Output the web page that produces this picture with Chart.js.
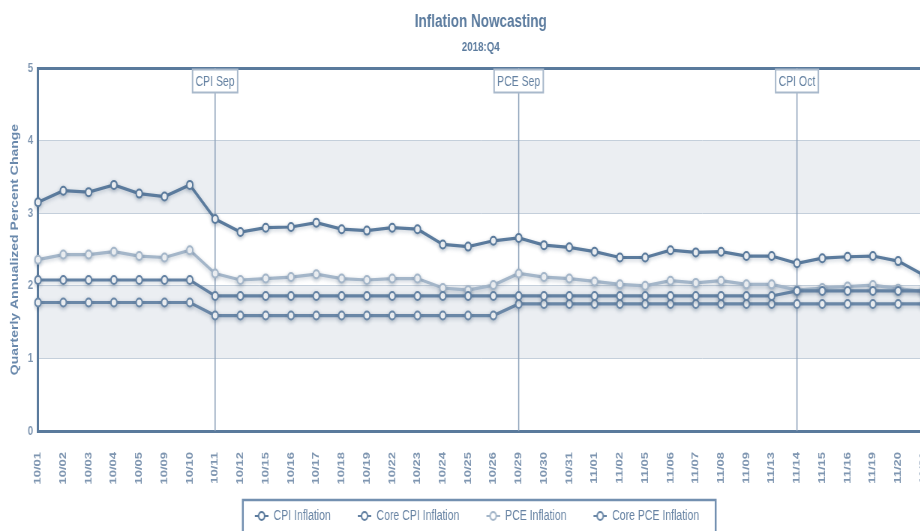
<!DOCTYPE html>
<html>
<head>
<meta charset="utf-8">
<title>Inflation Nowcasting</title>
<script src="https://cdn.jsdelivr.net/npm/chart.js@4.4.1/dist/chart.umd.min.js"></script>
<style>
  html, body { margin: 0; padding: 0; background: #fff; }
  #wrap { width: 920px; height: 531px; overflow: hidden; position: relative; }
  /* the source picture is squeezed sideways, so the canvas is squeezed the same way */
  #chart { transform: scaleX(0.75); transform-origin: 0 0; }
</style>
</head>
<body>
<div id="wrap"><canvas id="chart" width="1290" height="533"></canvas></div>
<script>
// ============ DATA ============
const dates = [
  "10/01", "10/02", "10/03", "10/04", "10/05", "10/09", "10/10", "10/11", "10/12",
  "10/15", "10/16", "10/17", "10/18", "10/19", "10/22", "10/23", "10/24", "10/25",
  "10/26", "10/29", "10/30", "10/31", "11/01", "11/02", "11/05", "11/06", "11/07",
  "11/08", "11/09", "11/13", "11/14", "11/15", "11/16", "11/19", "11/20", "11/21"
];

const cpi = [
  3.15, 3.31, 3.29, 3.39, 3.27, 3.23, 3.39, 2.92, 2.74,
  2.80, 2.81, 2.87, 2.78, 2.76, 2.80, 2.78, 2.57, 2.54,
  2.62, 2.66, 2.56, 2.53, 2.47, 2.39, 2.39, 2.49, 2.46,
  2.47, 2.41, 2.41, 2.31, 2.38, 2.40, 2.41, 2.34, 2.15
];

const coreCpi = [
  2.08, 2.08, 2.08, 2.08, 2.08, 2.08, 2.08, 1.86, 1.86,
  1.86, 1.86, 1.86, 1.86, 1.86, 1.86, 1.86, 1.86, 1.86,
  1.86, 1.86, 1.86, 1.86, 1.86, 1.86, 1.86, 1.86, 1.86,
  1.86, 1.86, 1.86, 1.93, 1.93, 1.93, 1.93, 1.93, 1.93
];

const pce = [
  2.36, 2.43, 2.43, 2.47, 2.41, 2.39, 2.49, 2.17, 2.08,
  2.10, 2.12, 2.16, 2.10, 2.08, 2.10, 2.10, 1.97, 1.94,
  2.01, 2.17, 2.12, 2.10, 2.06, 2.02, 2.00, 2.07, 2.04,
  2.07, 2.02, 2.02, 1.94, 1.97, 1.99, 2.01, 1.96, 1.92
];

const corePce = [
  1.77, 1.77, 1.77, 1.77, 1.77, 1.77, 1.77, 1.59, 1.59,
  1.59, 1.59, 1.59, 1.59, 1.59, 1.59, 1.59, 1.59, 1.59,
  1.59, 1.75, 1.75, 1.75, 1.75, 1.75, 1.75, 1.75, 1.75,
  1.75, 1.75, 1.75, 1.75, 1.75, 1.75, 1.75, 1.75, 1.75
];

const yTicks = [0, 1, 2, 3, 4, 5];
const shadedBands = [[1, 2], [3, 4]];
const releaseDates = ["10/11", "10/29", "11/14"];
const releaseNames = ["CPI Sep", "PCE Sep", "CPI Oct"];

// ============ STYLE ============
const FONT = "'Liberation Sans', Arial, sans-serif";
const AXIS = "#5a7a9c";
const TITLE = "#5b7b9e";
const TICK = "#7f96b1";

// line+marker picture for the legend; the blank left half spaces the items out
function legendIcon(color) {
  const c = document.createElement("canvas");
  c.width = 36;
  c.height = 12;
  const g = c.getContext("2d");
  g.strokeStyle = color;
  g.lineWidth = 2;
  g.beginPath();
  g.moveTo(18, 6);
  g.lineTo(36, 6);
  g.stroke();
  g.fillStyle = "#fff";
  g.beginPath();
  g.arc(27, 6, 4, 0, Math.PI * 2);
  g.fill();
  g.stroke();
  return c;
}

function series(label, data, color) {
  return {
    label,
    data,
    borderColor: color,
    backgroundColor: "#fff",
    borderWidth: 3.2,
    pointRadius: 4,
    pointBorderWidth: 2,
    pointBackgroundColor: "#fff",
    pointBorderColor: color,
    pointHoverRadius: 4,
    tension: 0,
  };
}

// ============ PLUGINS ============
const bands = {
  id: "bands",
  beforeDraw(chart) {
    const { ctx, chartArea: a, scales: { y } } = chart;
    ctx.save();
    ctx.fillStyle = "#ebeef2";
    shadedBands.forEach(([lo, hi]) => {
      const top = y.getPixelForValue(hi);
      const bot = y.getPixelForValue(lo);
      ctx.fillRect(a.left, top, a.right - a.left, bot - top);
    });
    ctx.restore();
  }
};

const releases = {
  id: "releases",
  beforeDatasetsDraw(chart) {
    const { ctx, chartArea: a, scales: { x } } = chart;
    ctx.save();
    releaseDates.forEach((d, i) => {
      const px = x.getPixelForValue(dates.indexOf(d));
      ctx.strokeStyle = "#8ea2ba";
      ctx.lineWidth = 1.5;
      ctx.beginPath();
      ctx.moveTo(px, a.top);
      ctx.lineTo(px, a.bottom);
      ctx.stroke();

      ctx.font = "14px " + FONT;
      const w = ctx.measureText(releaseNames[i]).width + 8;
      const bx = px - w / 2, by = a.top + 1.5, bh = 23;
      ctx.fillStyle = "#fff";
      ctx.fillRect(bx, by, w, bh);
      ctx.strokeStyle = "#a9b9cb";
      ctx.lineWidth = 2;
      ctx.strokeRect(bx, by, w, bh);
      ctx.fillStyle = "#6582a2";
      ctx.textAlign = "center";
      ctx.textBaseline = "middle";
      ctx.fillText(releaseNames[i], px, by + bh / 2 + 1);
    });
    ctx.restore();
  }
};

const shadow = {
  id: "shadow",
  beforeDatasetDraw(chart) {
    const c = chart.ctx;
    c.save();
    c.shadowColor = "rgba(60,85,115,0.3)";
    c.shadowBlur = 4;
    c.shadowOffsetY = 1.5;
  },
  afterDatasetDraw(chart) {
    chart.ctx.restore();
  }
};

const legendFrame = {
  id: "legendFrame",
  // nudge the legend row a little left, the source centres it slightly off the plot
  afterLayout(chart) {
    chart.legend.left -= 14;
    chart.legend.right -= 14;
  },
  afterDraw(chart) {
    const hb = chart.legend.legendHitBoxes;
    if (!hb || !hb.length) return;
    const last = hb[hb.length - 1];
    const x0 = hb[0].left + 18 - 16;
    const x1 = last.left + last.width + 22;
    const y0 = hb[0].top + hb[0].height / 2 - 16;
    const ctx = chart.ctx;
    ctx.save();
    ctx.strokeStyle = "#7390b0";
    ctx.lineWidth = 2.5;
    ctx.strokeRect(x0, y0, x1 - x0, 60);
    ctx.restore();
  }
};

// ============ CHART ============
const colors = ["#5b7b9d", "#6482a3", "#a4b6c9", "#6a87a7"];
const icons = colors.map(legendIcon);

new Chart(document.getElementById("chart"), {
  type: "line",
  data: {
    labels: dates,
    datasets: [
      series("CPI Inflation", cpi, colors[0]),
      series("Core CPI Inflation", coreCpi, colors[1]),
      series("PCE Inflation", pce, colors[2]),
      series("Core PCE Inflation", corePce, colors[3]),
    ]
  },
  options: {
    responsive: false,
    animation: false,
    devicePixelRatio: 1,
    layout: { padding: { left: 0, right: 58.7, top: 0, bottom: 0 } },
    plugins: {
      title: {
        display: true,
        text: "Inflation Nowcasting",
        fullSize: false,
        color: TITLE,
        font: { family: FONT, size: 18, weight: "bold" },
        padding: { top: 11.7, bottom: 0 }
      },
      subtitle: {
        display: true,
        text: "2018:Q4",
        fullSize: false,
        color: TITLE,
        font: { family: FONT, size: 13, weight: "bold" },
        padding: { top: 6.4, bottom: 12.7 }
      },
      legend: {
        position: "bottom",
        fullSize: false,
        align: "center",
        labels: {
          usePointStyle: true,
          pointStyleWidth: 36,
          padding: 18,
          color: "#6783a3",
          font: { family: FONT, size: 14 },
          generateLabels: (chart) =>
            Chart.defaults.plugins.legend.labels.generateLabels(chart)
              .map((l, i) => ({ ...l, pointStyle: icons[i] }))
        }
      },
      tooltip: { enabled: false }
    },
    scales: {
      x: {
        type: "category",
        offset: false,
        afterFit: (s) => { s.height = 60; s.paddingLeft = 0; s.paddingRight = 0; },
        border: { display: true, color: AXIS, width: 3 },
        grid: { display: false, drawTicks: false },
        ticks: {
          autoSkip: false,
          minRotation: 90,
          maxRotation: 90,
          padding: 21,
          color: TICK,
          font: { family: FONT, size: 13, weight: "bold" }
        }
      },
      y: {
        min: yTicks[0],
        max: yTicks[yTicks.length - 1],
        afterBuildTicks: (s) => { s.ticks = yTicks.map((v) => ({ value: v })); },
        afterFit: (s) => { s.width = 50.7; s.paddingTop = 0; s.paddingBottom = 0; },
        border: { display: true, color: AXIS, width: 3 },
        grid: {
          drawTicks: false,
          color: (c) => c.tick.value === 5 ? AXIS : c.tick.value === 0 ? "rgba(0,0,0,0)" : "#c4cfdb",
          lineWidth: (c) => c.tick.value === 5 ? 3 : 1
        },
        ticks: {
          padding: 6.5,
          color: TICK,
          font: { family: FONT, size: 13, weight: "bold" }
        },
        title: {
          display: true,
          text: "Quarterly Annualized Percent Change",
          color: "#6a89ac",
          font: { family: FONT, size: 14, weight: "bold" },
          padding: { top: 11.6, bottom: 0 }
        }
      }
    }
  },
  plugins: [bands, releases, shadow, legendFrame]
});
</script>
</body>
</html>
